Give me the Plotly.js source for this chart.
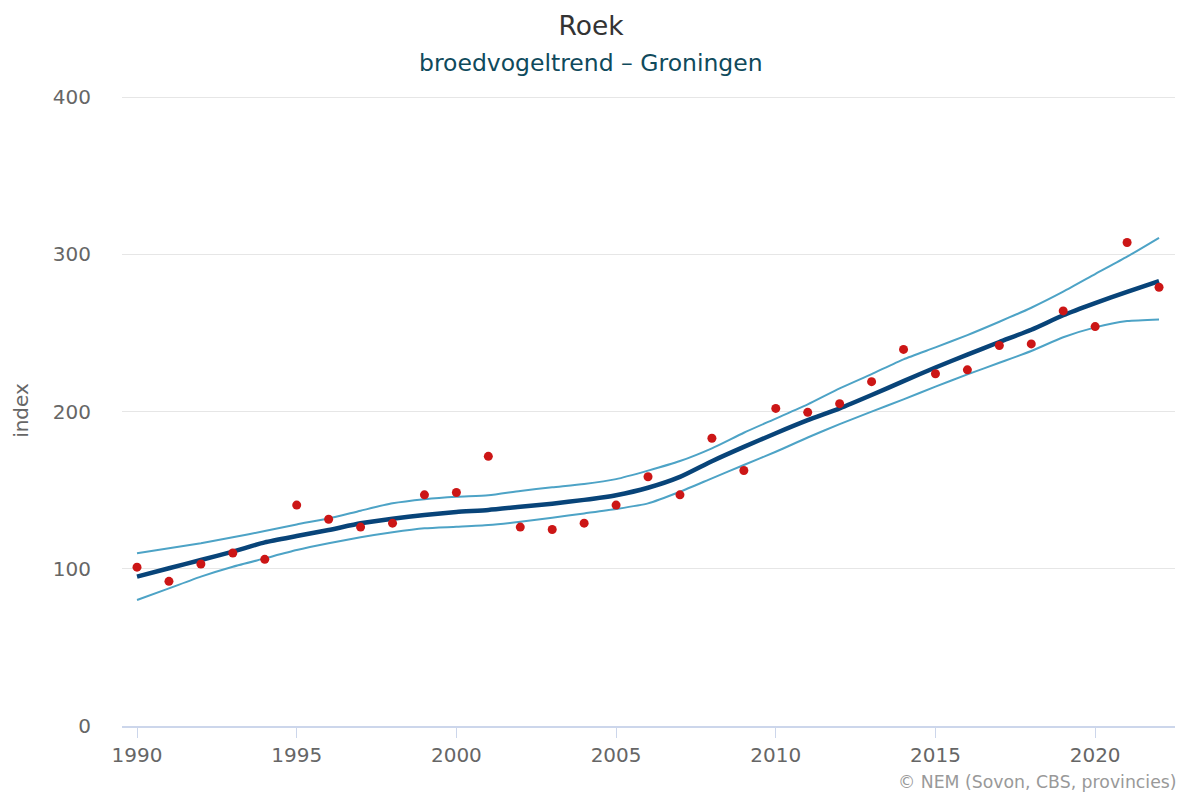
<!DOCTYPE html>
<html>
<head>
<meta charset="utf-8">
<script src="https://cdn.plot.ly/plotly-3.0.1.min.js"></script>
<style>
  html, body { margin: 0; padding: 0; background: #ffffff; }
  #chart { width: 1182px; height: 792px; }
</style>
</head>
<body>
<div id="chart"></div>
<script>
const years = [1990,1991,1992,1993,1994,1995,1996,1997,1998,1999,2000,2001,2002,2003,2004,2005,2006,2007,2008,2009,2010,2011,2012,2013,2014,2015,2016,2017,2018,2019,2020,2021,2022];
const indexValues = [101,92,103,110,106,140.5,131.5,126.5,129,147,148.5,171.5,126.5,125,129,140.5,158.5,147,183,162.5,202,199.5,205,219,239.5,224,226.5,242,243,264,254,307.5,279];
const trend = [95,100.3,105.6,110.9,116.8,120.8,124.6,128.9,131.8,134.2,136.1,137.4,139.4,141.4,143.8,146.8,151.5,158.4,168.4,177.5,186.2,194.5,202,210.5,219.3,228,236.2,244.2,252,261.2,268.9,276.1,283];
const upper = [109.8,113,116.2,120,124,128.2,132,136.9,141.6,144.2,145.8,146.7,149.5,151.8,153.9,157,162.4,168.5,176.6,186.5,195.5,204.5,214.7,223.8,233.2,240.8,248.6,257.1,266,276.2,287.4,298.5,310.5];
const lower = [80.1,87.5,95,101.3,106.6,111.9,116.2,120,123.2,125.7,126.7,127.8,129.9,132.5,135.2,138,141.6,149,157.5,166,174.4,183.5,192,199.9,207.7,215.8,223.6,231,238.5,247.2,253.5,257.5,258.6];
const xTicks = [1990,1995,2000,2005,2010,2015,2020];
const yTicks = [0,100,200,300,400];

const FONT = 'DejaVu Sans, Lucida Grande, sans-serif';

const traces = [
  {x: years, y: upper, type: 'scatter', mode: 'lines', name: 'bovengrens',
   line: {color: '#4da3c6', width: 2, shape: 'spline', smoothing: 0.6}, hoverinfo: 'skip'},
  {x: years, y: lower, type: 'scatter', mode: 'lines', name: 'ondergrens',
   line: {color: '#4da3c6', width: 2, shape: 'spline', smoothing: 0.6}, hoverinfo: 'skip'},
  {x: years, y: trend, type: 'scatter', mode: 'lines', name: 'trend',
   line: {color: '#084479', width: 4.5, shape: 'spline', smoothing: 0.6}},
  {x: years, y: indexValues, type: 'scatter', mode: 'markers', name: 'index',
   marker: {color: '#cc1616', size: 9}}
];

const layout = {
  width: 1182, height: 792,
  paper_bgcolor: '#ffffff', plot_bgcolor: '#ffffff',
  margin: {l: 122, r: 7, t: 95, b: 66},
  showlegend: false,
  font: {family: FONT, color: '#666666'},
  title: {
    text: 'Roek',
    font: {family: FONT, size: 26.5, color: '#333333'},
    x: 0.5, xanchor: 'center', y: 0.968, yanchor: 'middle'
  },
  xaxis: {
    range: [1989.53, 2022.5],
    tickvals: xTicks, ticktext: xTicks.map(String),
    ticks: 'outside', ticklen: 10, tickcolor: '#ccd6eb', tickwidth: 1,
    showline: true, linecolor: '#ccd6eb', linewidth: 2,
    showgrid: false, zeroline: false,
    tickfont: {family: FONT, size: 20, color: '#666666'}
  },
  yaxis: {
    range: [0, 401.3],
    tickvals: yTicks, ticktext: yTicks.map(String),
    showgrid: true, gridcolor: '#e6e6e6', gridwidth: 1,
    zeroline: false, showline: false, ticks: '',
    ticklabelstandoff: 30,
    tickfont: {family: FONT, size: 20, color: '#666666'},
    title: {text: 'index', font: {family: FONT, size: 20, color: '#666666'}, standoff: 18}
  },
  annotations: [
    {text: 'broedvogeltrend – Groningen', xref: 'paper', yref: 'paper',
     x: 0.4454, xanchor: 'center', y: 1, yanchor: 'middle', yshift: 32, showarrow: false,
     font: {family: FONT, size: 23.5, color: '#0f4a5c'}},
    {text: '© NEM (Sovon, CBS, provincies)', xref: 'paper', yref: 'paper',
     x: 1, xanchor: 'right', xshift: 4, y: 0, yshift: -56, yanchor: 'middle', showarrow: false,
     font: {family: FONT, size: 17.3, color: '#999999'}}
  ]
};

Plotly.newPlot('chart', traces, layout, {displayModeBar: false, staticPlot: true});
</script>
</body>
</html>
